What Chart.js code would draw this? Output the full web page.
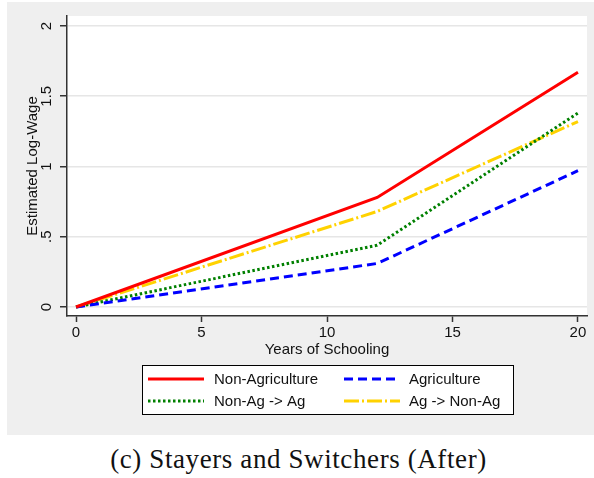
<!DOCTYPE html>
<html>
<head>
<meta charset="utf-8">
<script src="https://cdn.jsdelivr.net/npm/chart.js@4"></script>
<style>
  html, body { margin: 0; padding: 0; background: #ffffff; }
  body { width: 594px; height: 478px; position: relative; overflow: hidden; }
  #panel { position: absolute; left: 7px; top: 2px; width: 587px; height: 433px; background: #efefef; }
  #caption {
    position: absolute; left: 0; top: 446px; width: 597px; text-align: center;
    font-family: "Liberation Serif", serif; font-size: 27px; line-height: 27px;
    letter-spacing: 0.6px; color: #111;
  }
</style>
</head>
<body>
<div id="panel"><canvas id="chart" width="587" height="433"></canvas></div>
<div id="caption">(c) Stayers and Switchers (After)</div>
<script>
// Data
const years = [0, 12, 20];
const nonAgriculture = [0, 0.78, 1.67];
const agriculture = [0, 0.31, 0.97];
const nonAgToAg = [0, 0.44, 1.38];
const agToNonAg = [0, 0.68, 1.32];
const seriesNames = ['Non-Agriculture', 'Agriculture', 'Non-Ag -> Ag', 'Ag -> Non-Ag'];
const xTicks = [0, 5, 10, 15, 20];
const yTicks = [0, 0.5, 1, 1.5, 2];

const toPoints = vals => vals.map((v, i) => ({ x: years[i], y: v }));

const FONT = "'Liberation Sans', Arial, sans-serif";

// white plot region
const plotBg = {
    id: 'plotBg',
    beforeDraw(chart) {
        const a = chart.chartArea;
        const ctx = chart.ctx;
        ctx.save();
        ctx.fillStyle = '#ffffff';
        ctx.fillRect(a.left, a.top, a.right - a.left, a.bottom - a.top);
        ctx.restore();
    }
};

// Stata-like boxed legend, 2 columns
const boxLegend = {
    id: 'boxLegend',
    afterDraw(chart) {
        const ctx = chart.ctx;
        const box = { left: 135, top: 363, right: 506, bottom: 412 };
        const cols = [{ line: 141, text: 207 }, { line: 337, text: 402 }];
        const rows = [377, 399];
        ctx.save();
        ctx.fillStyle = '#ffffff';
        ctx.fillRect(box.left, box.top, box.right - box.left, box.bottom - box.top);
        ctx.strokeStyle = '#000000';
        ctx.lineWidth = 1;
        ctx.strokeRect(box.left + 0.5, box.top + 0.5, box.right - box.left, box.bottom - box.top);
        chart.data.datasets.forEach((ds, i) => {
            const c = cols[i % 2];
            const y = rows[Math.floor(i / 2)];
            ctx.beginPath();
            ctx.strokeStyle = ds.borderColor;
            ctx.lineWidth = ds.borderWidth;
            ctx.setLineDash(ds.borderDash || []);
            ctx.moveTo(c.line, y);
            ctx.lineTo(c.line + 56, y);
            ctx.stroke();
            ctx.setLineDash([]);
            ctx.fillStyle = '#111111';
            ctx.font = '15px ' + FONT;
            ctx.textBaseline = 'middle';
            ctx.fillText(ds.label, c.text, y + 1);
        });
        ctx.restore();
    }
};

const line = (label, vals, color, dash) => ({
    label: label,
    data: toPoints(vals),
    borderColor: color,
    backgroundColor: color,
    borderWidth: 3,
    borderDash: dash,
    borderCapStyle: 'butt',
    pointRadius: 0,
    tension: 0,
    fill: false
});

new Chart(document.getElementById('chart'), {
    type: 'line',
    data: {
        datasets: [
            line(seriesNames[0], nonAgriculture, '#ff0000', []),
            line(seriesNames[1], agriculture, '#0000ff', [9, 5]),
            line(seriesNames[2], nonAgToAg, '#008000', [2.5, 2.5]),
            line(seriesNames[3], agToNonAg, '#ffd200', [15, 3, 2, 3])
        ]
    },
    options: {
        responsive: false,
        animation: false,
        layout: { padding: { left: 0, top: 14, right: 7, bottom: 0 } },
        plugins: { legend: { display: false }, tooltip: { enabled: false } },
        scales: {
            x: {
                type: 'linear',
                min: -0.36,
                max: 20.36,
                afterBuildTicks: s => { s.ticks = xTicks.map(v => ({ value: v })); },
                afterFit: s => { s.height = 119; },
                border: { color: '#333333', width: 1.5 },
                grid: { drawOnChartArea: false, tickLength: 6, tickColor: '#333333', tickWidth: 1.5 },
                ticks: { color: '#111111', font: { family: FONT, size: 15 }, padding: 2, maxRotation: 0 },
                title: { display: true, text: 'Years of Schooling', color: '#111111',
                         font: { family: FONT, size: 15 }, padding: { top: 0, bottom: 76 } }
            },
            y: {
                min: -0.064,
                max: 2.071,
                afterBuildTicks: s => { s.ticks = yTicks.map(v => ({ value: v })); },
                afterFit: s => { s.width = 60; },
                border: { color: '#333333', width: 1.5 },
                grid: { color: '#e6e6e6', lineWidth: 1.5, tickLength: 7, tickColor: '#333333', tickWidth: 1.5 },
                ticks: {
                    color: '#111111', font: { family: FONT, size: 15 }, padding: 3,
                    minRotation: 90, maxRotation: 90, crossAlign: 'center',
                    callback: v => v === 0 ? '0' : String(v).replace(/^0\./, '.')
                },
                title: { display: true, text: 'Estimated Log-Wage', color: '#111111',
                         font: { family: FONT, size: 15 }, padding: { top: 17, bottom: 0 } }
            }
        }
    },
    plugins: [plotBg, boxLegend]
});
</script>
</body>
</html>
